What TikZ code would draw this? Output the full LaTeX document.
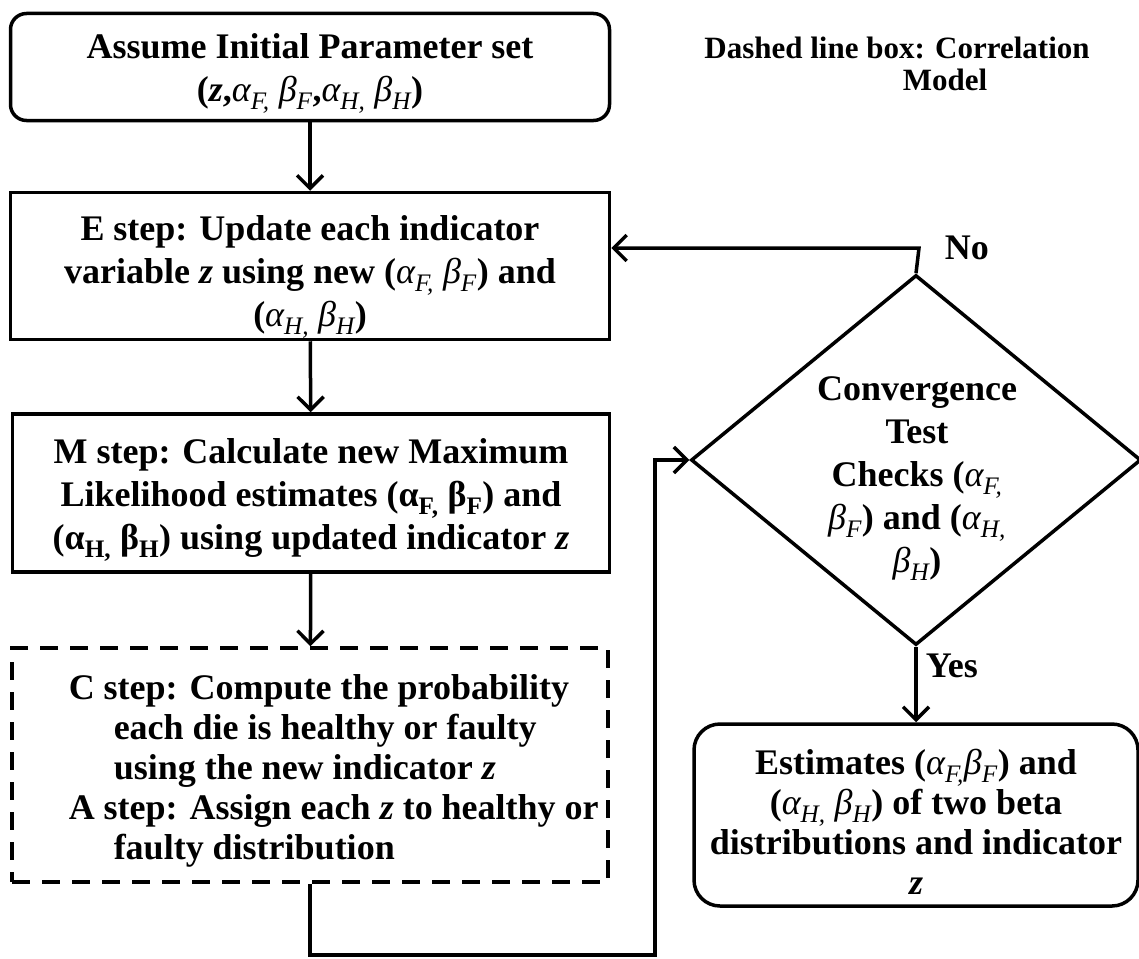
\documentclass[tikz,border=0pt]{standalone}
\usepackage{fontspec}
\setmainfont{Liberation Serif}
\usetikzlibrary{arrows.meta,shapes.geometric,calc}
\newcommand{\myga}[1]{{\mdseries\itshape α\textsubscript{#1}}}
\newcommand{\mygb}[1]{{\mdseries\itshape β\textsubscript{#1}}}
\newcommand{\myz}{{\itshape z}}
\begin{document}
\begin{tikzpicture}[x=1pt,y=-1pt,line width=3.5pt,
  bigfont/.style={font=\fontsize{36}{43}\selectfont\bfseries},
  box/.style={draw, inner sep=0pt},
  txt/.style={align=center, inner sep=0pt, bigfont},
  arr/.style={-{Straight Barb[length=13pt,width=26pt]}},
  dbox/.style={draw, dash pattern=on 18pt off 12pt, inner sep=0pt}]
\useasboundingbox (0,0) rectangle (1139,958);
% boxes
\node[box, rounded corners=16pt, minimum width=599pt, minimum height=107pt] (init) at (310,67) {};
\node[txt] (inittext) at (310,73)
 {Assume Initial Parameter set\\(\myz,\myga{F,} \mygb{F},\myga{H,} \mygb{H})};
\node[box, minimum width=599pt, minimum height=147pt] (estep) at (310,266) {};
\node[txt] (esteptext) at (310,277)
 {E step: Update each indicator\\variable \myz\ using new (\myga{F,} \mygb{F}) and\\(\myga{H,} \mygb{H})};
\node[box, minimum width=597pt, minimum height=158pt] (mstep) at (311,493) {};
\node[txt] (msteptext) at (311,500)
 {M step: Calculate new Maximum\\Likelihood estimates (α\textsubscript{F,} β\textsubscript{F}) and\\(α\textsubscript{H,} β\textsubscript{H}) using updated indicator \myz};
\node[dbox, minimum width=596pt, minimum height=234pt] (cstep) at (310,765) {};
\node[anchor=west, align=left, inner sep=0pt, font=\fontsize{36}{40}\selectfont\bfseries] (ctext) at (67,771)
 {C step: Compute the probability\\
  \hspace*{45pt}each die is healthy or faulty\\
  \hspace*{45pt}using the new indicator \myz\\
  A step: Assign each \myz\ to healthy or\\
  \hspace*{45pt}faulty distribution};
% decision
\node[draw, diamond, inner sep=0pt, minimum width=450pt, minimum height=370pt] (conv) at (916,460) {};
\node[txt] (convtext) at (917,479)
 {Convergence\\Test\\Checks (\myga{F,}\\\mygb{F}) and (\myga{H,}\\\mygb{H})};
% result
\node[box, rounded corners=26pt, minimum width=444pt, minimum height=182pt] (est) at (916,815) {};
\node[txt, font=\fontsize{36}{40}\selectfont\bfseries] (esttext) at (916,822)
 {Estimates (\myga{F,}\mygb{F}) and\\(\myga{H,} \mygb{H}) of two beta\\distributions and indicator\\\myz};
% labels
\node[align=center, inner sep=0pt, font=\fontsize{31}{32}\selectfont\bfseries] (note) at (897,64)
 {Dashed line box: Correlation\\\hspace*{96pt}Model};
\node[anchor=west, inner sep=0pt, bigfont] (nolab) at (943,248) {No};
\node[anchor=west, inner sep=0pt, bigfont] (yeslab) at (924,666) {Yes};
% connectors
\coordinate (nobend) at (919,248);
\coordinate (lowbend) at (655,955);
\draw[arr] (init) -- (estep);
\draw[arr] (estep) -- (mstep);
\draw[arr] (mstep) -- (cstep);
\draw[arr] (cstep.south) |- (lowbend) |- (conv.west);
\draw[arr] (conv.north) -- (nobend) -- (estep.east |- nobend);
\draw[arr] (conv.south) -- (est.north);
\end{tikzpicture}
\end{document}
